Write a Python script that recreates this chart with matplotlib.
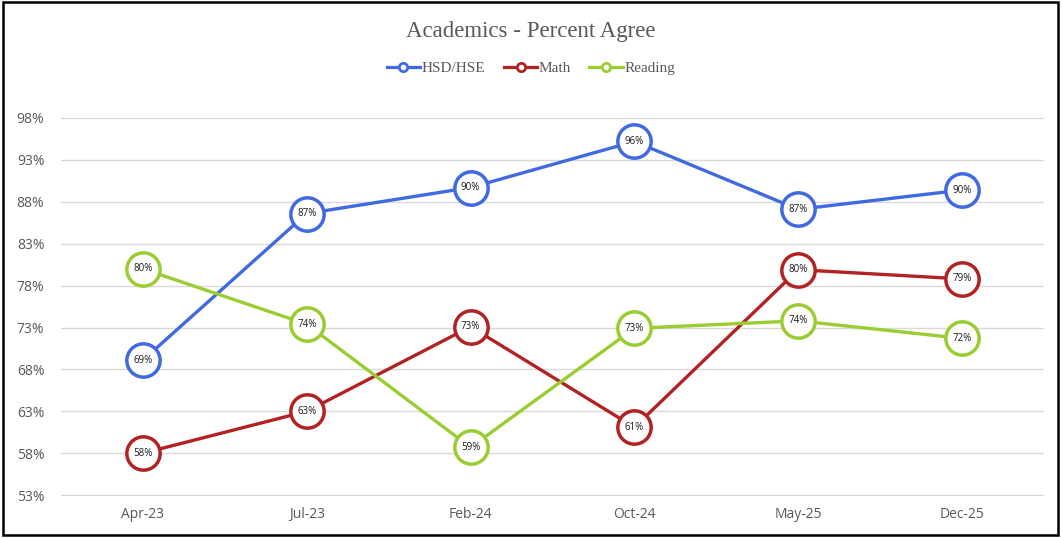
import matplotlib
matplotlib.use('Agg')
from matplotlib import pyplot as plt
from matplotlib.patches import Rectangle
from matplotlib.lines import Line2D

months = ['Apr-23', 'Jul-23', 'Feb-24', 'Oct-24', 'May-25', 'Dec-25']
hsd = [69.1, 86.6, 89.7, 95.2, 87.1, 89.4]
math_ = [58.0, 63.0, 73.1, 61.1, 79.9, 78.8]
reading = [80.0, 73.4, 58.7, 72.9, 73.8, 71.7]
hsd_labels = ['69%', '87%', '90%', '96%', '87%', '90%']
math_labels = ['58%', '63%', '73%', '61%', '80%', '79%']
reading_labels = ['80%', '74%', '59%', '73%', '74%', '72%']
yticks = [53, 58, 63, 68, 73, 78, 83, 88, 93, 98]

series = [('HSD/HSE', hsd, hsd_labels, '#4169E1'),
          ('Math', math_, math_labels, '#B22222'),
          ('Reading', reading, reading_labels, '#9ACD32')]

fig = plt.figure(figsize=(10.62, 5.38), dpi=100)
ax = fig.add_axes([0.0574, 0.0781, 0.9256, 0.7026])
x = list(range(len(months)))

for name, vals, labs, col in series:
    ax.plot(x, vals, '-', color=col, lw=2.4, marker='o', ms=24,
            mfc='white', mec=col, mew=2.5, clip_on=False, zorder=3)
    for xi, v, lab in zip(x, vals, labs):
        ax.text(xi, v, lab, ha='center', va='center',
                fontsize=7, family='Open Sans', color='#1a1a1a', zorder=4)

ax.set_xlim(-0.5, len(months) - 0.5)
ax.set_ylim(52.9, 98)
ax.set_yticks(yticks)
ax.set_yticklabels(['%d%%' % t for t in yticks])
ax.set_xticks(x)
ax.set_xticklabels(months)
ax.grid(axis='y', color='#d9d9d9', lw=1)
ax.set_axisbelow(True)
for s in ax.spines.values():
    s.set_visible(False)
ax.tick_params(length=0, labelsize=10, labelcolor='#595959', pad=8)
for lab in ax.get_xticklabels() + ax.get_yticklabels():
    lab.set_family('Open Sans')
ax.tick_params(axis='y', pad=12)

fig.text(0.5, 0.942, 'Academics - Percent Agree', ha='center', va='center',
         fontsize=16.5, family='Liberation Serif', color='#595959')

handles = [Line2D([0], [0], color=c, lw=2.3, marker='o', ms=6, mfc='white',
                  mec=c, mew=2) for _, _, _, c in series]
leg = fig.legend(handles, [n for n, _, _, _ in series], loc='center',
                 bbox_to_anchor=(0.5, 0.873), ncol=3, frameon=False,
                 handlelength=2.2, handletextpad=0.1, columnspacing=1.2,
                 prop={'family': 'Liberation Serif', 'size': 11})
for t in leg.get_texts():
    t.set_color('#595959')

fig.patches.append(Rectangle((0.003, 0.006), 0.993, 0.99, transform=fig.transFigure,
                             fill=False, ec='black', lw=1.8))

plt.savefig('out.png', dpi=100)
